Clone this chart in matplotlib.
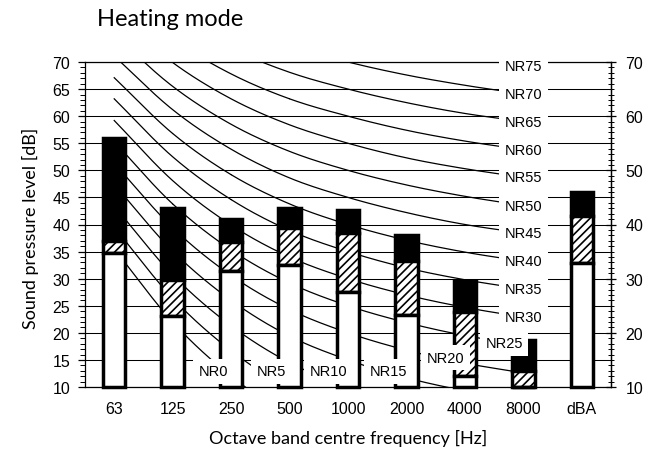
import numpy as np
import matplotlib
matplotlib.use("Agg")
import matplotlib.pyplot as plt
from matplotlib.ticker import MultipleLocator

# --- data ---
BANDS = ["63", "125", "250", "500", "1000", "2000", "4000", "8000", "dBA"]

# top of each stacked segment [dB] (bars start at the axis floor, 10 dB)
WHITE_TOP = [34.7, 23.1, 31.5, 32.6, 27.5, 23.3, 12.0, 10.0, 32.9]
HATCH_TOP = [36.9, 29.8, 36.8, 39.4, 38.4, 33.3, 23.9, 12.9, 41.5]
BLACK_TOP = [56.0, 43.0, 41.1, 43.0, 42.6, 38.1, 29.5, 18.6, 46.0]

# NR curves, levels at 63 ... 8000 Hz
NR_VALUES = [0, 5, 10, 15, 20, 25, 30, 35, 40, 45, 50, 55, 60, 65, 70, 75]
NR_LEVELS = [
    [35.5, 22.0, 12.0, 4.8, 0.0, -3.5, -6.1, -8.0],
    [39.5, 26.4, 16.7, 9.7, 5.0, 1.6, -1.0, -2.9],
    [43.4, 30.7, 21.3, 14.5, 10.0, 6.7, 4.2, 2.3],
    [47.4, 35.1, 26.0, 19.4, 15.0, 11.7, 9.3, 7.5],
    [51.3, 39.4, 30.6, 24.3, 20.0, 16.8, 14.4, 12.6],
    [55.3, 43.8, 35.3, 29.2, 25.0, 21.9, 19.5, 17.8],
    [59.2, 48.1, 39.9, 34.0, 30.0, 27.0, 24.7, 22.9],
    [63.2, 52.5, 44.6, 38.9, 35.0, 32.0, 29.8, 28.1],
    [67.1, 56.8, 49.2, 43.8, 40.0, 37.1, 34.9, 33.2],
    [71.1, 61.2, 53.9, 48.6, 45.0, 42.2, 40.0, 38.4],
    [75.0, 65.5, 58.5, 53.5, 50.0, 47.3, 45.2, 43.5],
    [79.0, 69.9, 63.2, 58.4, 55.0, 52.3, 50.3, 48.7],
    [82.9, 74.2, 67.8, 63.2, 60.0, 57.4, 55.4, 53.8],
    [86.9, 78.6, 72.5, 68.1, 65.0, 62.5, 60.5, 59.0],
    [90.8, 82.9, 77.1, 73.0, 70.0, 67.6, 65.7, 64.1],
    [94.8, 87.3, 81.8, 77.9, 75.0, 72.6, 70.8, 69.3],
]
# label anchors for the low curves; the rest sit at the 8000 Hz end
LOW_LABEL_X = [1.70, 2.69, 3.66, 4.69, 5.67, 6.67]
LOW_LABEL_Y = [12.9, 12.9, 12.9, 12.9, 15.4, 18.1]

Y_MIN, Y_MAX = 10, 70
ARIAL = "Liberation Sans"
CALIBRI = "Lato"


def smooth(xs, ys, n=24):
    """Catmull-Rom curve through the points (like Excel's smoothed line)."""
    pts = np.column_stack([xs, ys]).astype(float)
    p = np.vstack([2 * pts[0] - pts[1], pts, 2 * pts[-1] - pts[-2]])
    t = np.linspace(0, 1, n)[:, None]
    segs = []
    for i in range(1, len(p) - 2):
        p0, p1, p2, p3 = p[i - 1], p[i], p[i + 1], p[i + 2]
        segs.append(0.5 * (2 * p1 + (p2 - p0) * t
                           + (2 * p0 - 5 * p1 + 4 * p2 - p3) * t ** 2
                           + (3 * p1 - p0 - 3 * p2 + p3) * t ** 3))
    out = np.vstack(segs)
    return out[:, 0], out[:, 1]


plt.rcParams["font.family"] = ARIAL
plt.rcParams["hatch.linewidth"] = 1.2

fig = plt.figure(figsize=(6.62, 4.52), dpi=100)
ax = fig.add_axes([85 / 662, 1 - 388 / 452, 526 / 662, 325 / 452])
ax.set_xlim(-0.5, len(BANDS) - 0.5)
ax.set_ylim(Y_MIN, Y_MAX)

# gridlines
ax.yaxis.set_major_locator(MultipleLocator(5))
ax.yaxis.set_minor_locator(MultipleLocator(1))
ax.grid(True, axis="y", which="major", color="black", lw=0.75, zorder=0)
ax.set_axisbelow(True)

# NR curves with labels
band_x = np.arange(len(NR_LEVELS[0]))
for i, (nr, levels) in enumerate(zip(NR_VALUES, NR_LEVELS)):
    sx, sy = smooth(band_x, levels)
    ax.plot(sx, sy, color="black", lw=0.9, zorder=1.5)
    if i < len(LOW_LABEL_X):
        lx, ly = LOW_LABEL_X[i], LOW_LABEL_Y[i]
    else:
        lx, ly = band_x[-1], levels[-1]
    ax.text(lx, ly, f"NR{nr}", ha="center", va="center", fontsize=10.5,
            bbox=dict(boxstyle="square,pad=0.38", fc="white", ec="none"), zorder=6)

# stacked bars
x = np.arange(len(BANDS))
bw = 0.385
bar_kw = dict(width=bw, edgecolor="black", lw=2.5, zorder=3, clip_on=False)
ax.bar(x, np.subtract(BLACK_TOP, HATCH_TOP), bottom=HATCH_TOP, color="black", **bar_kw)
ax.bar(x, np.subtract(HATCH_TOP, WHITE_TOP), bottom=WHITE_TOP, color="white",
       hatch="////", **bar_kw)
ax.bar(x, np.subtract(WHITE_TOP, Y_MIN), bottom=Y_MIN, color="white", **bar_kw)

# axes styling
for side in ["top", "right", "left", "bottom"]:
    ax.spines[side].set_color("black")
    ax.spines[side].set_linewidth(0.9)
ax.set_xticks(x, BANDS)
ax.tick_params(axis="x", length=0, pad=10, labelsize=11.5)
ax.tick_params(axis="y", which="major", direction="out", length=4.8, width=0.9,
               pad=6, labelsize=11.5)
ax.tick_params(axis="y", which="minor", direction="out", length=3.4, width=0.7)

ax2 = ax.twinx()
ax2.set_ylim(Y_MIN, Y_MAX)
ax2.yaxis.set_major_locator(MultipleLocator(10))
ax2.yaxis.set_minor_locator(MultipleLocator(1))
ax2.tick_params(axis="y", which="major", direction="inout", length=7, width=0.9,
                pad=7, labelsize=11.5)
ax2.tick_params(axis="y", which="minor", direction="inout", length=4.8, width=0.7)
for side in ["top", "left", "bottom"]:
    ax2.spines[side].set_visible(False)
ax2.spines["right"].set_linewidth(0.9)

fig.text(97 / 662, 1 - 26 / 452, "Heating mode", fontsize=17, family=CALIBRI,
         va="baseline")
fig.text(30 / 662, 1 - 228 / 452, "Sound pressure level [dB]", fontsize=13,
         family=CALIBRI, rotation=90, ha="center", va="center")
fig.text(348 / 662, 1 - 438 / 452, "Octave band centre frequency [Hz]", fontsize=13,
         family=CALIBRI, ha="center", va="center")

fig.savefig("out.png", dpi=100)
